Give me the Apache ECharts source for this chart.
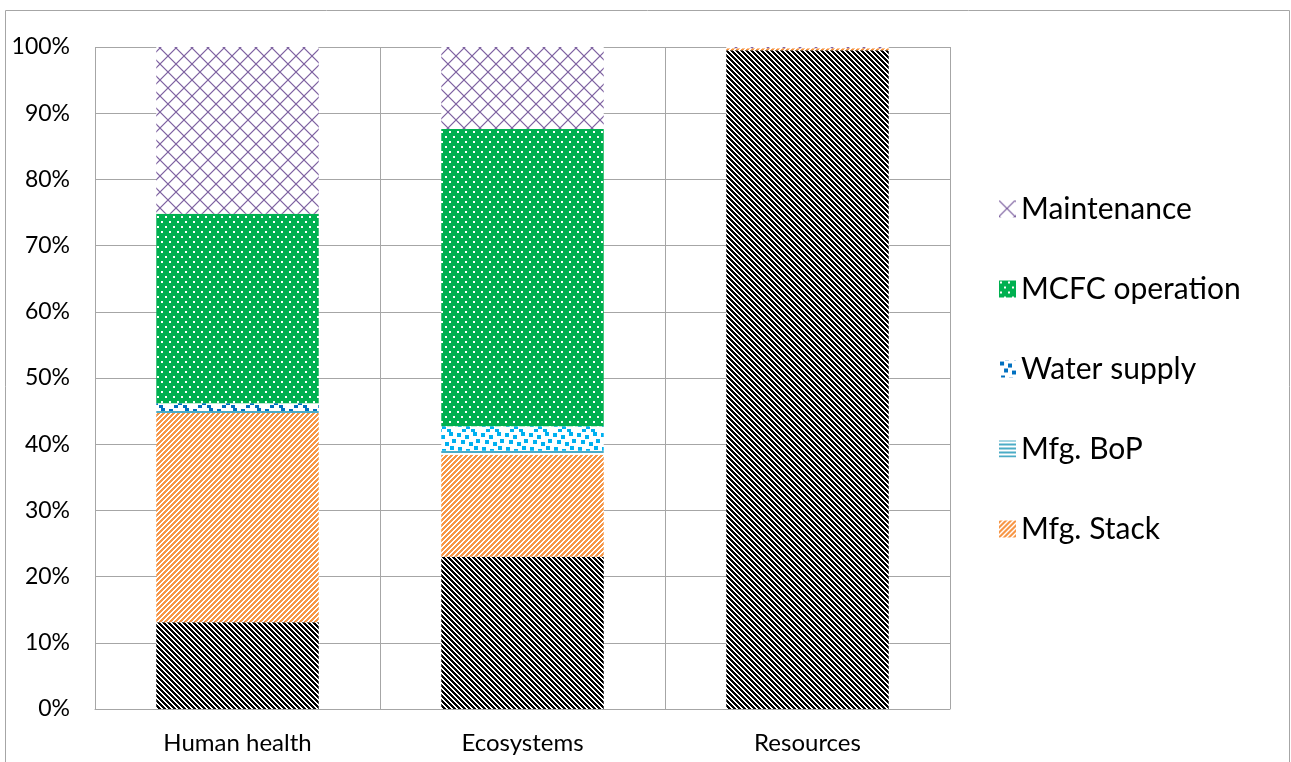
<!DOCTYPE html>
<html>
<head>
    <meta charset="utf-8">
    <title>Impact contribution</title>
    <script src="https://cdn.jsdelivr.net/npm/echarts@6/dist/echarts.min.js"></script>
    <style>
        body { margin: 0; background: #fff; }
        #main { width: 1291px; height: 762px; }
    </style>
</head>
<body>
    <div id="main"></div>

    <script type="text/javascript">
        // data (percent of total per category)
        var categories = ['Human health', 'Ecosystems', 'Resources'];
        var baseShare = [13.1, 23.0, 99.5];
        var stackShare = [31.6, 15.4, 0.3];
        var bopShare = [0.3, 0.6, 0.0];
        var waterShare = [1.2, 3.7, 0.0];
        var mcfcShare = [28.6, 44.9, 0.0];
        var maintShare = [25.2, 12.4, 0.2];
        var legendNames = ['Maintenance', 'MCFC operation', 'Water supply', 'Mfg. BoP', 'Mfg. Stack'];
        var yTicks = [0, 10, 20, 30, 40, 50, 60, 70, 80, 90, 100];

        // small tile helper: fn(x, y) returns a colour or null
        function tile(w, h, bg, fn) {
            var c = document.createElement('canvas');
            c.width = w; c.height = h;
            var ctx = c.getContext('2d');
            ctx.fillStyle = bg;
            ctx.fillRect(0, 0, w, h);
            for (var y = 0; y < h; y++) {
                for (var x = 0; x < w; x++) {
                    var col = fn(x, y);
                    if (col) { ctx.fillStyle = col; ctx.fillRect(x, y, 1, 1); }
                }
            }
            return { image: c, repeat: 'repeat' };
        }

        var blackDiag = tile(5, 5, '#fff', function (x, y) {
            return ((x - y + 10) % 5) < 3 ? '#000' : null;
        });
        var orangeDiag = tile(5, 5, '#fff', function (x, y) {
            return ((x + y) % 5) < 3 ? '#F79646' : null;
        });
        var bopLines = tile(4, 4, '#fff', function (x, y) {
            return (y % 3) === 0 ? '#4BACC6' : null;
        });
        var greenDots = tile(8, 10, '#00B050', function (x, y) {
            if ((x === 1 || x === 2) && (y === 1 || y === 2)) return '#fff';
            if ((x === 5 || x === 6) && (y === 6 || y === 7)) return '#fff';
            return null;
        });
        function confetti(col) {
            var sq = [[1, 1], [9, 3], [17, 0], [5, 8], [13, 10], [20, 7], [2, 15], [10, 17], [18, 14], [6, 21], [15, 21]];
            return tile(24, 24, '#fff', function (x, y) {
                for (var i = 0; i < sq.length; i++) {
                    if (x >= sq[i][0] && x < sq[i][0] + 4 && y >= sq[i][1] && y < sq[i][1] + 4) return col;
                }
                return null;
            });
        }
        var waterDark = confetti('#0070C0');
        var waterLight = confetti('#00B0F0');
        var purpleLattice = tile(16, 16, '#fff', function (x, y) {
            if (x === y || x === 15 - y) return '#8064A2';
            if (Math.abs(x - y) === 1 || Math.abs(x - (15 - y)) === 1) return 'rgba(128,100,162,0.35)';
            return null;
        });

        var myChart = echarts.init(document.getElementById('main'));

        function bar(name, data, color) {
            return {
                name: name,
                type: 'bar',
                stack: 'total',
                barWidth: '57%',
                data: data,
                itemStyle: { color: color },
                emphasis: { disabled: true }
            };
        }

        var waterData = waterShare.map(function (v, i) {
            return { value: v, itemStyle: { color: i === 1 ? waterLight : waterDark } };
        });

        myChart.setOption({
            animation: false,
            textStyle: { fontFamily: 'Lato, "Open Sans", sans-serif' },
            graphic: [{
                type: 'rect',
                shape: { x: 5.5, y: 10.5, width: 1284, height: 760 },
                style: { fill: 'none', stroke: '#a6a6a6', lineWidth: 1 },
                silent: true
            }],
            grid: { left: 95, right: 341, top: 47, bottom: 53 },
            legend: {
                data: legendNames,
                orient: 'vertical',
                left: 994,
                top: 189,
                itemGap: 50,
                itemWidth: 17,
                itemHeight: 17,
                icon: 'rect',
                textStyle: { fontSize: 30, color: '#000', padding: [0, 0, 0, 0] }
            },
            xAxis: {
                type: 'category',
                data: categories,
                axisLine: { lineStyle: { color: '#a6a6a6' } },
                axisTick: { show: false },
                splitLine: { show: true, lineStyle: { color: '#a6a6a6' } },
                axisLabel: { color: '#000', fontSize: 24, margin: 22 }
            },
            yAxis: {
                type: 'value',
                min: yTicks[0],
                max: yTicks[yTicks.length - 1],
                interval: 10,
                axisLine: { show: false },
                axisTick: { show: false },
                splitLine: { lineStyle: { color: '#a6a6a6' } },
                axisLabel: { color: '#000', fontSize: 23, margin: 25, formatter: '{value}%' }
            },
            series: [
                bar('Other', baseShare, blackDiag),
                bar('Mfg. Stack', stackShare, orangeDiag),
                bar('Mfg. BoP', bopShare, bopLines),
                bar('Water supply', waterData, waterDark),
                bar('MCFC operation', mcfcShare, greenDots),
                bar('Maintenance', maintShare, purpleLattice)
            ]
        });
    </script>
</body>
</html>
